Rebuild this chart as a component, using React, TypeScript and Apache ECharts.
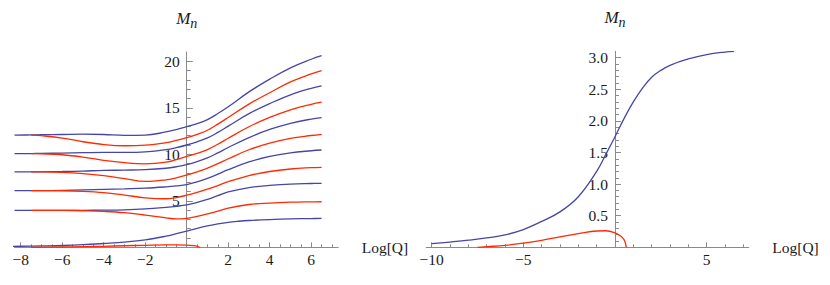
import React, { useEffect, useRef } from "react";
import * as echarts from "echarts";

// ---- data ----
const X_MAIN = [-8.3, -7.5, -7, -6, -5, -4, -3, -2, -1, -0.5, 0, 0.5, 1, 1.5, 2, 3, 4, 5, 6, 6.5];

const BLUE_12 = [12.07, 12.08, 12.1, 12.13, 12.16, 12.13, 12.04, 12.06, 12.4, 12.65, 12.97, 13.3, 13.73, 14.38, 15.11, 16.71, 18.08, 19.3, 20.22, 20.6];
const RED_12 = [null, 12.07, 12.0, 11.75, 11.35, 11.05, 10.92, 10.98, 11.25, 11.5, 11.8, 12.15, 12.59, 13.25, 13.96, 15.4, 16.62, 17.78, 18.64, 19.0];
const BLUE_10 = [10.07, 10.08, 10.1, 10.13, 10.17, 10.2, 10.2, 10.26, 10.5, 10.72, 11.0, 11.34, 11.76, 12.36, 13.03, 14.37, 15.45, 16.4, 17.1, 17.35];
const RED_10 = [null, 10.07, 10.05, 9.95, 9.7, 9.35, 9.1, 8.98, 9.15, 9.42, 9.78, 10.1, 10.5, 11.08, 11.73, 12.96, 13.96, 14.78, 15.37, 15.6];
const BLUE_8 = [8.1, 8.1, 8.12, 8.15, 8.2, 8.27, 8.3, 8.35, 8.5, 8.66, 8.88, 9.2, 9.61, 10.15, 10.73, 11.8, 12.67, 13.33, 13.79, 13.94];
const RED_8 = [null, 8.1, 8.1, 8.05, 7.92, 7.7, 7.38, 7.08, 7.25, 7.47, 7.77, 8.12, 8.51, 9.0, 9.52, 10.49, 11.19, 11.71, 12.02, 12.15];
const BLUE_6 = [6.09, 6.1, 6.1, 6.12, 6.17, 6.23, 6.29, 6.36, 6.5, 6.6, 6.74, 7.04, 7.41, 7.86, 8.35, 9.18, 9.78, 10.16, 10.38, 10.46];
const RED_6 = [null, 6.09, 6.09, 6.08, 6.02, 5.88, 5.62, 5.32, 5.22, 5.35, 5.6, 5.9, 6.25, 6.64, 7.05, 7.71, 8.15, 8.42, 8.56, 8.6];
const BLUE_4 = [3.98, 3.98, 3.98, 3.98, 3.98, 3.99, 4.03, 4.13, 4.3, 4.41, 4.56, 4.82, 5.15, 5.55, 5.96, 6.42, 6.65, 6.8, 6.86, 6.88];
const RED_4 = [null, 3.98, 3.98, 3.97, 3.93, 3.86, 3.72, 3.46, 3.16, 3.06, 3.12, 3.32, 3.6, 3.9, 4.22, 4.6, 4.76, 4.85, 4.89, 4.9];

const X_LOW = [-10, -9, -8, -7, -6, -5, -4, -3, -2, -1, -0.5, 0, 0.5, 1, 1.5, 2, 2.5, 3, 4, 5, 6, 6.5];
const BLUE_0 = [0.057, 0.083, 0.112, 0.148, 0.196, 0.28, 0.41, 0.56, 0.8, 1.2, 1.47, 1.75, 2.04, 2.3, 2.52, 2.69, 2.8, 2.88, 2.98, 3.05, 3.09, 3.1];

const X_RED0 = [-7.5, -7, -6, -5, -4, -3, -2, -1, -0.5, 0, 0.3, 0.5, 0.62];
const RED_0 = [0, 0.01, 0.03, 0.065, 0.11, 0.165, 0.215, 0.258, 0.262, 0.23, 0.18, 0.12, 0];

const LEFT_X_TICKS = [-8, -6, -4, -2, 0, 2, 4, 6];
const LEFT_X_LABELS = [-8, -6, -4, -2, 2, 4, 6];
const LEFT_Y_TICKS = [0, 5, 10, 15, 20];
const LEFT_Y_LABELS = [5, 10, 15, 20];
const RIGHT_X_TICKS = [-10, -5, 0, 5];
const RIGHT_X_LABELS = [-10, -5, 5];
const RIGHT_Y_TICKS = [0, 0.5, 1, 1.5, 2, 2.5, 3];
const RIGHT_Y_LABELS = [0.5, 1, 1.5, 2, 2.5, 3];

const X_NAME = "Log[Q]";

// ---- layout / styles ----
const FONT = "'Liberation Serif', 'Times New Roman', serif";
const AXIS = "#8a8a8a";
const TEXT = "#1a1a1a";
const BLUE = "#4646a6";
const RED = "#ff2a00";

const LEFT_GRID = { left: 14.5, top: 52, width: 323.7, height: 195.3 };
const RIGHT_GRID = { left: 426.2, top: 51.4, width: 322.6, height: 195.9 };

const pairs = (xs: number[], ys: (number | null)[]) =>
  xs.map((x, i) => [x, ys[i]]).filter((p) => p[1] !== null);

const minus = (s: string) => s.replace("-", "\u2212");

function makeX(gridIndex: number, min: number, max: number, step: number, minorSplit: number, ticks: number[], labels: number[], nameGap: number) {
  return {
    type: "value",
    gridIndex,
    position: "bottom",
    min,
    max,
    minInterval: step,
    maxInterval: step,
    splitNumber: 8,
    axisLine: { show: true, onZero: false, lineStyle: { color: AXIS, width: 1 } },
    axisTick: { show: true, inside: true, length: 5, customValues: ticks, lineStyle: { color: AXIS, width: 1 } },
    minorTick: { show: true, splitNumber: minorSplit, length: 3, lineStyle: { color: AXIS, width: 1 } },
    axisLabel: {
      show: true,
      customValues: labels,
      margin: 4,
      color: TEXT,
      fontFamily: FONT,
      fontSize: 15.5,
      formatter: (v: number) => minus(String(v)),
    },
    splitLine: { show: false },
    minorSplitLine: { show: false },
    name: X_NAME,
    nameLocation: "end",
    nameGap,
    nameMoveOverlap: false,
    nameTextStyle: { color: TEXT, fontFamily: FONT, fontSize: 15.5, align: "left", verticalAlign: "middle" },
  };
}

function makeY(gridIndex: number, min: number, max: number, step: number, minorSplit: number, ticks: number[], labels: number[], decimals: number, offset: number) {
  return {
    type: "value",
    gridIndex,
    position: "left",
    offset,
    min,
    max,
    minInterval: step,
    maxInterval: step,
    splitNumber: 6,
    axisLine: { show: true, onZero: false, lineStyle: { color: AXIS, width: 1 } },
    axisTick: { show: true, inside: true, length: 6, customValues: ticks, lineStyle: { color: AXIS, width: 1 } },
    minorTick: { show: true, splitNumber: minorSplit, length: 4, lineStyle: { color: AXIS, width: 1 } },
    axisLabel: {
      show: true,
      customValues: labels,
      margin: 7,
      color: TEXT,
      fontFamily: FONT,
      fontSize: 15.5,
      formatter: (v: number) => (decimals > 0 ? v.toFixed(decimals) : String(v)),
    },
    splitLine: { show: false },
    minorSplitLine: { show: false },
    name: "{m|M}{n|n}",
    nameLocation: "end",
    nameGap: 22,
    nameMoveOverlap: false,
    nameTextStyle: {
      color: TEXT,
      fontFamily: FONT,
      rich: {
        m: { fontFamily: FONT, fontStyle: "italic", fontSize: 17, color: TEXT, verticalAlign: "bottom", lineHeight: 20, padding: [0, 0, 3, 0] },
        n: { fontFamily: FONT, fontStyle: "italic", fontSize: 14, color: TEXT, verticalAlign: "bottom", lineHeight: 20 },
      },
    },
  };
}

function line(name: string, xi: number, data: any[], color: string, z = 2) {
  return {
    type: "line",
    name,
    xAxisIndex: xi,
    yAxisIndex: xi,
    data,
    smooth: 0.4,
    showSymbol: false,
    symbol: "none",
    clip: true,
    z,
    lineStyle: { color, width: 1.3 },
    emphasis: { disabled: true },
  };
}

export default function App() {
  const ref = useRef<HTMLDivElement>(null);

  useEffect(() => {
    if (!ref.current) return;
    const chart = echarts.init(ref.current, undefined, { renderer: "svg" });

    // y axes sit on x = 0 (shift from the grid's left edge to the zero position)
    const leftZero = (0 - -8.3) / (7.3 - -8.3) * LEFT_GRID.width;
    const rightZero = (0 - -10.3) / (7.3 - -10.3) * RIGHT_GRID.width;

    const option: any = {
      animation: false,
      backgroundColor: "#ffffff",
      textStyle: { fontFamily: FONT },
      grid: [
        { ...LEFT_GRID, containLabel: false, outerBoundsMode: "none" },
        { ...RIGHT_GRID, containLabel: false, outerBoundsMode: "none" },
      ],
      xAxis: [
        makeX(0, -8.3, 7.3, 2, 4, LEFT_X_TICKS, LEFT_X_LABELS, 23.5),
        makeX(1, -10.3, 7.3, 5, 5, RIGHT_X_TICKS, RIGHT_X_LABELS, 23.5),
      ],
      yAxis: [
        makeY(0, 0, 21, 5, 5, LEFT_Y_TICKS, LEFT_Y_LABELS, 0, -leftZero),
        makeY(1, 0, 3.1, 0.5, 5, RIGHT_Y_TICKS, RIGHT_Y_LABELS, 1, -rightZero),
      ],
      series: [
        line("blue12", 0, pairs(X_MAIN, BLUE_12), BLUE),
        line("red12", 0, pairs(X_MAIN, RED_12), RED),
        line("blue10", 0, pairs(X_MAIN, BLUE_10), BLUE),
        line("red10", 0, pairs(X_MAIN, RED_10), RED),
        line("blue8", 0, pairs(X_MAIN, BLUE_8), BLUE),
        line("red8", 0, pairs(X_MAIN, RED_8), RED),
        line("blue6", 0, pairs(X_MAIN, BLUE_6), BLUE),
        line("red6", 0, pairs(X_MAIN, RED_6), RED),
        line("blue4", 0, pairs(X_MAIN, BLUE_4), BLUE),
        line("red4", 0, pairs(X_MAIN, RED_4), RED),
        line("blue0", 0, pairs(X_LOW, BLUE_0), BLUE),
        line("red0", 0, pairs(X_RED0, RED_0), RED, 3),
        line("blue0R", 1, pairs(X_LOW, BLUE_0), BLUE),
        line("red0R", 1, pairs(X_RED0, RED_0), RED),
      ],
    };

    chart.setOption(option);
    return () => chart.dispose();
  }, []);

  return (
    <div
      ref={ref}
      style={{ position: "absolute", left: 0, top: 0, width: 830, height: 285, background: "#fff" }}
    />
  );
}
